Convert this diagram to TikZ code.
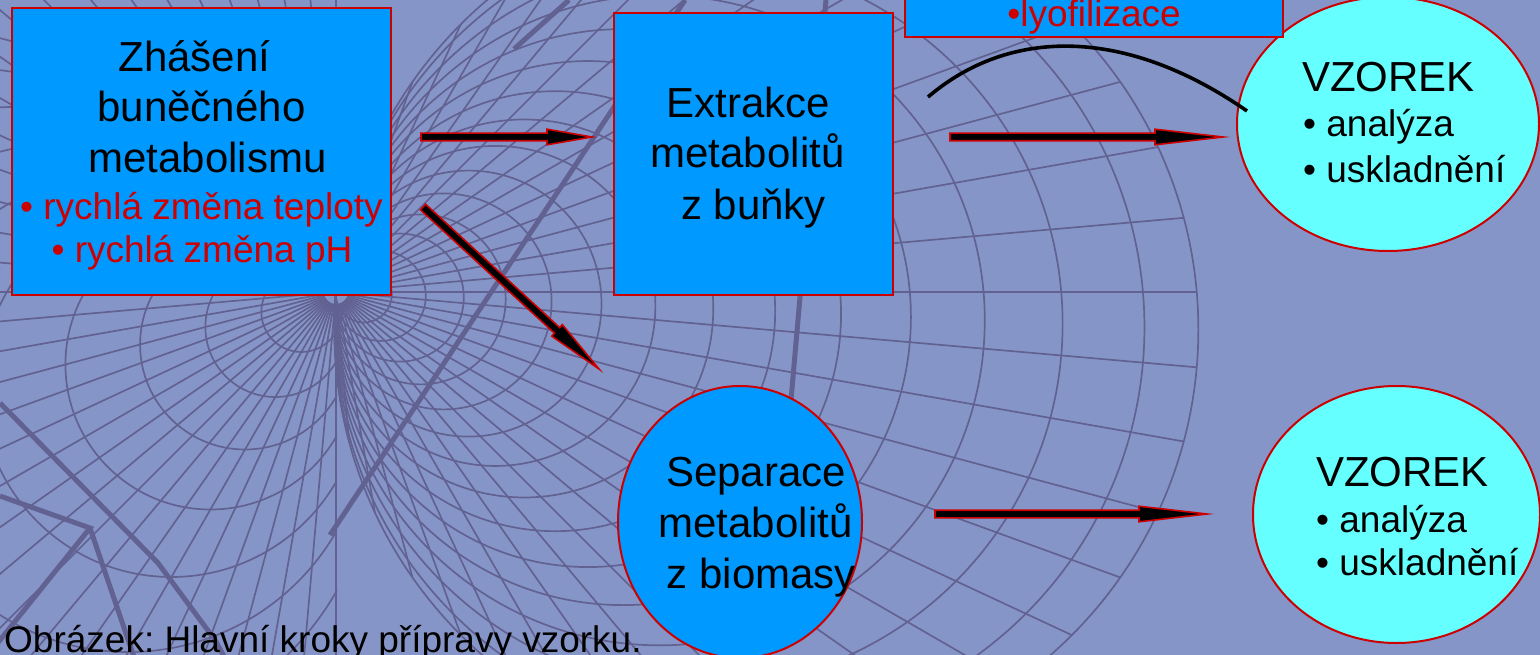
\documentclass[tikz,border=0pt]{standalone}
\usepackage{fontspec}
\setmainfont{Liberation Sans}
\usetikzlibrary{calc,shapes.geometric}
\frenchspacing
\definecolor{bgc}{RGB}{134,149,199}
\definecolor{gridc}{RGB}{98,98,146}
\definecolor{boxc}{RGB}{0,153,255}
\definecolor{cyanc}{RGB}{102,255,255}
\definecolor{redc}{RGB}{204,0,0}
\newcommand{\blockarrow}[3]{%
  \coordinate (hb) at ($(#2)!#3!(#1)$);
  \filldraw[blockarr] ($(#1)!3.8pt!90:(#2)$) -- ($(hb)!3.8pt!-90:(#1)$) -- ($(hb)!7.8pt!-90:(#1)$) -- (#2) -- ($(hb)!7.8pt!90:(#1)$) -- ($(hb)!3.8pt!90:(#1)$) -- ($(#1)!3.8pt!-90:(#2)$) -- cycle;}
\tikzset{
  gridline/.style={draw=gridc, line width=1.7pt},
  thickline/.style={draw=gridc, line width=5pt},
  blockarr/.style={fill=black, draw=redc, line width=1.6pt, line join=miter},
  boxnode/.style={draw=redc, line width=2pt, fill=boxc, rectangle, inner sep=0pt},
  ellnode/.style={draw=redc, line width=2pt, ellipse, inner sep=0pt},
  bigtxt/.style={font=\fontsize{42}{50}\selectfont, inner sep=0pt, anchor=base},
  bigleft/.style={font=\fontsize{42}{50}\selectfont, inner sep=0pt, anchor=base west},
  redtxt/.style={font=\fontsize{37}{44}\selectfont, text=redc, inner sep=0pt, anchor=base},
  bultxt/.style={font=\fontsize{37}{44}\selectfont, inner sep=0pt, anchor=base west},
  captxt/.style={font=\fontsize{37}{44}\selectfont, inner sep=0pt, anchor=base west}
}
\begin{document}
\begin{tikzpicture}[x=1pt,y=-1pt]
\useasboundingbox (0,0) rectangle (1540,655);
\clip (0,0) rectangle (1540,655);
\fill[bgc] (0,0) rectangle (1540,655);
% background grid
\coordinate (F) at (336,292);
\coordinate (C) at ($(F)+(5:432)$);
\begin{scope}
  \clip (C) circle (432pt);
  \foreach \a in {0,5,...,355} \draw[gridline] ($(F)+(\a:12)$) -- ($(F)+(\a:1400)$);
\end{scope}
\begin{scope}
  \clip (-5,-5) rectangle (337,665);
  \foreach \a in {0,5,...,355} \draw[gridline] ($(F)+(\a:12)$) -- ($(F)+(\a:1400)$);
  \foreach \r in {40,70,105,145,190,240,300,370,450,540} \draw[gridline] ($(F)+(150:\r)$) circle (\r pt);
\end{scope}
\foreach \r in {28,45,64,85,108,133,160,189,220,253,288,325,364,405,432} \draw[gridline] ($(F)+(5:\r)$) circle (\r pt);
\draw[thickline] (330,535) -- (685,0);
\draw[thickline] (826,0) -- (791,400);
\draw[thickline] (514,49) -- (569,0);
\draw[thickline] (0,403) -- (158,563) -- (215,640) -- (226,660);
\draw[thickline] (0,496) -- (90,528) -- (-20,665);
\draw[thickline] (90,528) -- (135,660);
% shapes
\node[boxnode, minimum width=379pt, minimum height=287pt] (quench) at (201.5,151.5) {};
\node[boxnode, minimum width=279pt, minimum height=282pt] (extr) at (753.5,154) {};
\node[ellnode, fill=cyanc, minimum width=302pt, minimum height=254pt] (vz1) at (1388,124) {};
\node[ellnode, fill=boxc, minimum width=244pt, minimum height=272pt] (sep) at (740,522) {};
\node[ellnode, fill=cyanc, minimum width=287pt, minimum height=257pt] (vz2) at (1396.5,514.5) {};
\node[boxnode, minimum width=378pt, minimum height=100pt] (lyobox) at (1094,-12.5) {};
% texts
\node[redtxt] (lyo) at (1094,27) {•lyofilizace};
\node[bigtxt] (q1) at (194.5,72) {Zhášení};
\node[bigtxt] (q2) at (201.5,122) {buněčného};
\node[bigtxt] (q3) at (207.5,173) {metabolismu};
\node[redtxt] (q4) at (201.5,220) {• rychlá změna teploty};
\node[redtxt] (q5) at (202,263) {• rychlá změna pH};
\node[bigtxt] (e1) at (748.5,118) {Extrakce};
\node[bigtxt] (e2) at (747.5,168) {metabolitů};
\node[bigtxt] (e3) at (753.5,220) {z buňky};
\node[bigtxt] (s1) at (756,486) {Separace};
\node[bigtxt] (s2) at (755.5,537) {metabolitů};
\node[bigtxt] (s3) at (761.5,588) {z biomasy};
\node[bigleft] (v1a) at (1302,92) {VZOREK};
\node[bultxt] (v1b) at (1303,137) {• analýza};
\node[bultxt] (v1c) at (1303,183) {• uskladnění};
\node[bigleft] (v2a) at (1316,486) {VZOREK};
\node[bultxt] (v2b) at (1316,532) {• analýza};
\node[bultxt] (v2c) at (1316,575) {• uskladnění};
\node[captxt] (cap) at (4,652) {Obrázek: Hlavní kroky přípravy vzorku.};
% arrows
\coordinate (a1s) at (421,137); \coordinate (a1e) at (592,137);
\coordinate (a2s) at (423,207); \coordinate (a2e) at (599,369);
\coordinate (a3s) at (950,137); \coordinate (a3e) at (1223,137);
\coordinate (a4s) at (935,514); \coordinate (a4e) at (1207,514);
\blockarrow{a1s}{a1e}{45pt}
\blockarrow{a2s}{a2e}{57pt}
\blockarrow{a3s}{a3e}{68pt}
\blockarrow{a4s}{a4e}{68pt}
\coordinate (arcS) at (928,97); \coordinate (arcE) at (1247,111);
\draw[line width=3.6pt, black] (arcS) .. controls (1010,27) and (1126,27) .. (arcE);
\end{tikzpicture}
\end{document}
